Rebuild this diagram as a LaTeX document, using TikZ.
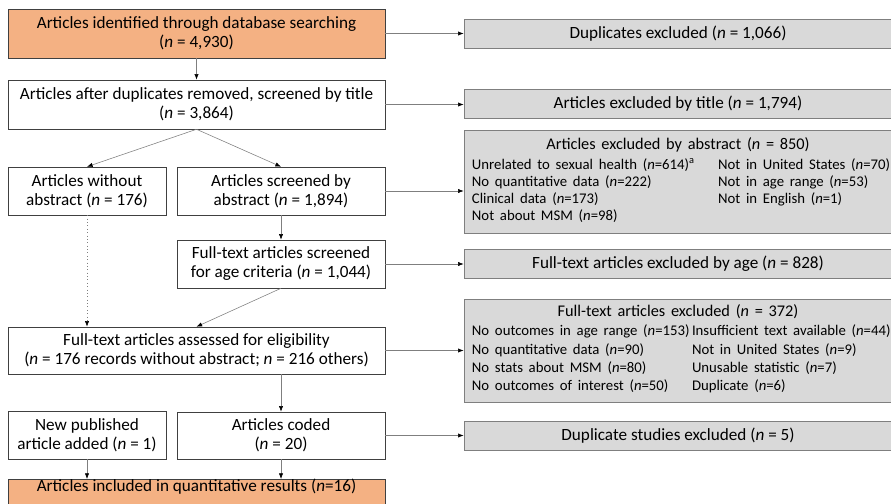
\documentclass[tikz,border=0pt]{standalone}
\usepackage{fontspec}
\setmainfont{Carlito}
\usepackage{tikz}
\usetikzlibrary{arrows.meta,positioning}
\definecolor{boxorange}{HTML}{F4B183}
\definecolor{exclgray}{HTML}{D9D9D9}
\definecolor{linegray}{HTML}{7F7F7F}
\newcommand{\nn}{\textit{n}}

\begin{document}
\begin{tikzpicture}[x=0.025cm,y=-0.025cm,font=\fontsize{12.2}{13.5}\selectfont,
	  box/.style={draw=black!75,fill=white,align=center,inner sep=1pt},
	  mainbox/.style={box,minimum width=9.425cm,minimum height=1.225cm},
	  halfbox/.style={box,minimum width=3.95cm,minimum height=1.2cm},
	  midbox/.style={box,minimum width=5.2cm,minimum height=1.2cm},
	  hit/.style={fill=boxorange},
	  excl/.style={draw=linegray,fill=exclgray,minimum width=10.7cm,minimum height=0.72cm,inner sep=2pt},
	  excllist/.style={excl,text width=10.3cm,inner xsep=0.2cm,minimum height=2.575cm},
	  link/.style={draw=linegray,-{Latex[length=4pt,width=3pt,color=black]}}]
	  \clip (0,0) rectangle (891,504);
	  % left column
	  \node (A) [mainbox,hit] at (196.5,33.5) {Articles identified through database searching\\(\nn{} = 4,930)};
	  \node (B) [mainbox] at (196.5,104.5) {Articles after duplicates removed, screened by title\\(\nn{} = 3,864)};
	  \node (C) [halfbox] at (87,191) {Articles without\\abstract (\nn{} = 176)};
	  \node (D) [midbox] at (281,191) {Articles screened by\\abstract (\nn{} = 1,894)};
	  \node (E) [midbox] at (281,264) {Full-text articles screened\\for age criteria (\nn{} = 1,044)};
	  \node (F) [mainbox,minimum height=1.175cm] at (196.5,350.5) {Full-text articles assessed for eligibility\\(\nn{} = 176 records without abstract; \nn{} = 216 others)};
	  \node (G) [halfbox] at (87,435) {New published\\article added (\nn{} = 1)};
	  \node (H) [midbox,minimum height=1.175cm] at (281,435.5) {Articles coded\\(\nn{} = 20)};
	  \node (I) [mainbox,hit,anchor=north,minimum height=0pt,text height=8pt,text depth=1cm] at (196.5,479) {Articles included in quantitative results (\nn=16)};
	  % exclusions
	  \node (R1) [excl] at (678,33.5) {Duplicates excluded (\nn{} = 1,066)};
	  \node (R2) [excl] at (678,104) {Articles excluded by title (\nn{} = 1,794)};
	  \node (R3) [excllist] at (678,181.5) {{\centering\fontsize{11.6}{13}\selectfont Articles excluded by abstract (\nn{} = 850)\par}
	    \vspace{3pt}\fontsize{10.5}{12.1}\selectfont
	    \begin{tabular}{@{}p{6.15cm}@{}l@{}}
	      Unrelated to sexual health (\nn=614)\textsuperscript{a} & Not in United States (\nn=70)\\
	      No quantitative data (\nn=222) & Not in age range (\nn=53)\\
	      Clinical data (\nn=173) & Not in English (\nn=1)\\
	      Not about MSM (\nn=98) & \\
	    \end{tabular}};
	  \node (R4) [excl] at (678,264) {Full-text articles excluded by age (\nn{} = 828)};
	  \node (R5) [excllist] at (678,350.5) {{\centering\fontsize{11.6}{13}\selectfont Full-text articles excluded (\nn{} = 372)\par}
	    \vspace{2pt}\fontsize{10.5}{13}\selectfont
	    \begin{tabular}{@{}p{5.5cm}@{}l@{}}
	      No outcomes in age range (\nn=153) & Insufficient text available (\nn=44)\\
	      No quantitative data (\nn=90) & Not in United States (\nn=9)\\
	      No stats about MSM (\nn=80) & Unusable statistic (\nn=7)\\
	      No outcomes of interest (\nn=50) & Duplicate (\nn=6)\\
	    \end{tabular}};
	  \node (R6) [excl] at (678,435.5) {Duplicate studies excluded (\nn{} = 5)};
	  % connectors
	  \draw [link] (A) -- (B);
	  \draw [link] (B.south) -- (C.north);
	  \draw [link] (B.south) -- (D.north);
	  \draw [link] (D) -- (E);
	  \draw [link] (E.south) -- (F.north);
	  \draw [link,dotted] (C.south) -- (C.south |- F.north);
	  \draw [link] (F.south -| H.north) -- (H.north);
	  \draw [link] (G.south) -- (G.south |- I.north);
	  \draw [link] (H.south) -- (H.south |- I.north);
	  \draw [link] (A.east) -- (A.east -| R1.west);
	  \draw [link] (B.east) -- (B.east -| R2.west);
	  \draw [link] (D.east) -- (D.east -| R3.west);
	  \draw [link] (E.east) -- (E.east -| R4.west);
	  \draw [link] (F.east) -- (F.east -| R5.west);
	  \draw [link] (H.east) -- (H.east -| R6.west);
	\end{tikzpicture}
\end{document}
